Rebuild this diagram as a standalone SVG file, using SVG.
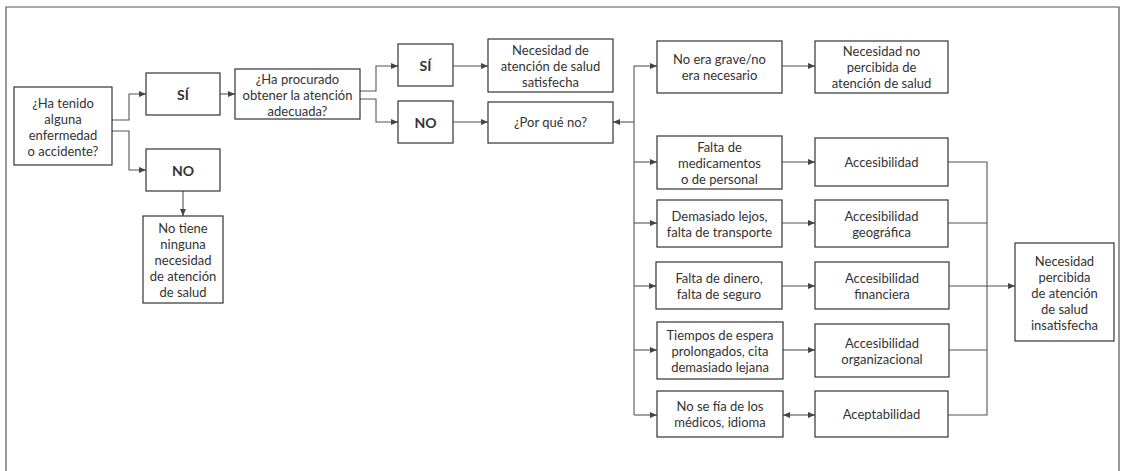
<svg xmlns="http://www.w3.org/2000/svg" width="1121" height="471" viewBox="0 0 1121 471">
<defs>
<marker id="ah" markerWidth="8" markerHeight="8" refX="7" refY="4" orient="auto" markerUnits="userSpaceOnUse">
<path d="M0,1 L7,4 L0,7 Z" fill="#444"/>
</marker>
<marker id="ahs" markerWidth="8" markerHeight="8" refX="0" refY="4" orient="auto" markerUnits="userSpaceOnUse">
<path d="M7,1 L0,4 L7,7 Z" fill="#444"/>
</marker>
<style>
.box{fill:#fff;stroke:#333;stroke-width:1.2}
.t{font-family:Lato,"Liberation Sans",sans-serif;font-size:13px;fill:#333;text-anchor:middle;dominant-baseline:central}
.b{font-weight:bold;font-size:14px}
.c{fill:none;stroke:#555;stroke-width:1.1}
.a{marker-end:url(#ah)}
</style>
</defs>
<rect x="0" y="0" width="1121" height="471" fill="#fff"/>
<path d="M6,480 V7 H1119 V480" fill="none" stroke="#555" stroke-width="1.2"/>

<g id="connectors">
<path class="c a" d="M112,120 H129 V94 H146"/>
<path class="c a" d="M112,131 H129 V170 H146"/>
<path class="c a" d="M183,191 V216"/>
<path class="c a" d="M220,94 H235"/>
<path class="c a" d="M360,91 H376 V66 H398"/>
<path class="c a" d="M360,99 H376 V122 H398"/>
<path class="c a" d="M453,66 H488"/>
<path class="c a" d="M453,122 H488"/>
<path class="c a" d="M634,122 H613"/>
<path class="c" d="M634,66 V415"/>
<path class="c a" d="M634,66 H657"/>
<path class="c a" d="M634,162 H657"/>
<path class="c a" d="M634,223 H657"/>
<path class="c a" d="M634,286 H656"/>
<path class="c a" d="M634,350 H657"/>
<path class="c a" d="M634,415 H657"/>
<path class="c a" d="M782,66 H815"/>
<path class="c a" d="M782,162 H815"/>
<path class="c a" d="M782,223 H815"/>
<path class="c a" d="M782,286 H815"/>
<path class="c a" d="M783,350 H815"/>
<path class="c a" d="M783,415 H815" style="marker-start:url(#ahs)"/>
<path class="c" d="M948,162 H987 V415 H948"/>
<path class="c" d="M948,223 H987"/>
<path class="c" d="M949,350 H987"/>
<path class="c a" d="M949,286 H1015"/>
</g>

<g id="n-enfermedad"><rect class="box" x="14" y="87" width="98" height="78"/>
<text class="t" x="63" y="103">¿Ha tenido</text><text class="t" x="63" y="119">alguna</text><text class="t" x="63" y="135">enfermedad</text><text class="t" x="63" y="151">o accidente?</text></g>
<g id="n-si1"><rect class="box" x="146" y="73" width="74" height="42"/><text class="t b" x="183" y="94">SÍ</text></g>
<g id="n-no1"><rect class="box" x="146" y="149" width="74" height="42"/><text class="t b" x="183" y="170">NO</text></g>
<g id="n-notiene"><rect class="box" x="143" y="216" width="80" height="87"/>
<text class="t" x="183" y="228">No tiene</text><text class="t" x="183" y="244">ninguna</text><text class="t" x="183" y="260">necesidad</text><text class="t" x="183" y="276">de atención</text><text class="t" x="183" y="292">de salud</text></g>
<g id="n-procurado"><rect class="box" x="235" y="69" width="125" height="50"/>
<text class="t" x="297.5" y="79">¿Ha procurado</text><text class="t" x="297.5" y="95">obtener la atención</text><text class="t" x="297.5" y="111">adecuada?</text></g>
<g id="n-si2"><rect class="box" x="398" y="44" width="55" height="42"/><text class="t b" x="425.5" y="65">SÍ</text></g>
<g id="n-no2"><rect class="box" x="398" y="101" width="55" height="42"/><text class="t b" x="425.5" y="122">NO</text></g>
<g id="n-satisfecha"><rect class="box" x="488" y="39" width="125" height="53"/>
<text class="t" x="550.5" y="50">Necesidad de</text><text class="t" x="550.5" y="66">atención de salud</text><text class="t" x="550.5" y="82">satisfecha</text></g>
<g id="n-porque"><rect class="box" x="488" y="102" width="125" height="41"/><text class="t" x="550.5" y="122">¿Por qué no?</text></g>
<g id="n-nograve"><rect class="box" x="657" y="41" width="125" height="52"/>
<text class="t" x="719.5" y="59">No era grave/no</text><text class="t" x="719.5" y="75">era necesario</text></g>
<g id="n-noperc"><rect class="box" x="815" y="41" width="133" height="52"/>
<text class="t" x="881.5" y="51">Necesidad no</text><text class="t" x="881.5" y="67">percibida de</text><text class="t" x="881.5" y="83">atención de salud</text></g>
<g id="n-medic"><rect class="box" x="657" y="136" width="125" height="53"/>
<text class="t" x="719.5" y="147">Falta de</text><text class="t" x="719.5" y="163">medicamentos</text><text class="t" x="719.5" y="179">o de personal</text></g>
<g id="n-acc"><rect class="box" x="815" y="138" width="133" height="48"/><text class="t" x="881.5" y="162">Accesibilidad</text></g>
<g id="n-lejos"><rect class="box" x="657" y="200" width="125" height="47"/>
<text class="t" x="719.5" y="215.5">Demasiado lejos,</text><text class="t" x="719.5" y="231.5">falta de transporte</text></g>
<g id="n-geo"><rect class="box" x="815" y="200" width="133" height="47"/>
<text class="t" x="881.5" y="215.5">Accesibilidad</text><text class="t" x="881.5" y="231.5">geográfica</text></g>
<g id="n-dinero"><rect class="box" x="656" y="262" width="126" height="47"/>
<text class="t" x="719" y="277.5">Falta de dinero,</text><text class="t" x="719" y="293.5">falta de seguro</text></g>
<g id="n-fin"><rect class="box" x="815" y="262" width="134" height="47"/>
<text class="t" x="882" y="277.5">Accesibilidad</text><text class="t" x="882" y="293.5">financiera</text></g>
<g id="n-espera"><rect class="box" x="657" y="322" width="126" height="57"/>
<text class="t" x="720" y="334.5">Tiempos de espera</text><text class="t" x="720" y="350.5">prolongados, cita</text><text class="t" x="720" y="366.5">demasiado lejana</text></g>
<g id="n-org"><rect class="box" x="815" y="324" width="134" height="53"/>
<text class="t" x="882" y="342.5">Accesibilidad</text><text class="t" x="882" y="358.5">organizacional</text></g>
<g id="n-fia"><rect class="box" x="657" y="391" width="126" height="46"/>
<text class="t" x="720" y="406">No se fía de los</text><text class="t" x="720" y="422">médicos, idioma</text></g>
<g id="n-acept"><rect class="box" x="815" y="391" width="133" height="46"/><text class="t" x="881.5" y="414">Aceptabilidad</text></g>
<g id="n-insat"><rect class="box" x="1015" y="243" width="99" height="98"/>
<text class="t" x="1064.5" y="261">Necesidad</text><text class="t" x="1064.5" y="277">percibida</text><text class="t" x="1064.5" y="293">de atención</text><text class="t" x="1064.5" y="309">de salud</text><text class="t" x="1064.5" y="325">insatisfecha</text></g>
</svg>
